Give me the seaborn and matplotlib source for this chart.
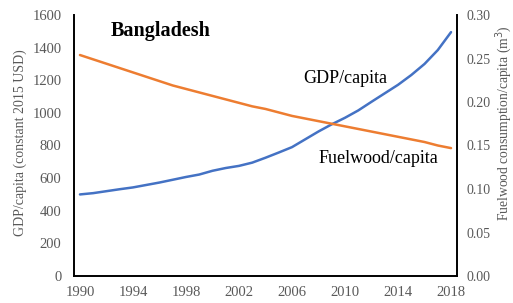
import matplotlib
matplotlib.use("Agg")
import matplotlib.pyplot as plt
import seaborn as sns
import pandas as pd

years = list(range(1990, 2019))
gdp_per_capita = [500, 508, 520, 532, 543, 558, 573, 590, 607, 622,
                  645, 662, 675, 695, 725, 757, 790, 838, 886, 930,
                  970, 1015, 1068, 1120, 1172, 1232, 1300, 1385, 1495]
fuelwood_per_capita = [0.254, 0.249, 0.244, 0.239, 0.234, 0.229, 0.224, 0.219, 0.215, 0.211,
                       0.207, 0.203, 0.199, 0.195, 0.192, 0.188, 0.184, 0.181, 0.178, 0.175,
                       0.172, 0.169, 0.166, 0.163, 0.160, 0.157, 0.154, 0.150, 0.147]
x_ticks = [1990, 1994, 1998, 2002, 2006, 2010, 2014, 2018]
left_ticks = [0, 200, 400, 600, 800, 1000, 1200, 1400, 1600]
right_ticks = [0.00, 0.05, 0.10, 0.15, 0.20, 0.25, 0.30]

df = pd.DataFrame({"year": years, "gdp": gdp_per_capita, "fuel": fuelwood_per_capita})

sns.set_style("white")
plt.rcParams['font.family'] = ['Liberation Serif', 'DejaVu Serif']

gray = "#595959"
fig = plt.figure(figsize=(5.13, 3.03), dpi=100)
ax = fig.add_axes([74/513, 27/303, (457-74)/513, (276-15)/303])
ax2 = ax.twinx()

sns.lineplot(data=df, x="year", y="gdp", ax=ax, color="#4472C4", linewidth=1.8)
sns.lineplot(data=df, x="year", y="fuel", ax=ax2, color="#ED7D31", linewidth=1.8)

ax.set_xlim(1989.55, 2018.45)
ax.set_ylim(0, 1600)
ax2.set_ylim(0, 0.30)
ax.set_xticks(x_ticks)
ax.set_yticks(left_ticks)
ax2.set_yticks(right_ticks)
ax2.set_yticklabels([f"{v:.2f}" for v in right_ticks])

for a in (ax, ax2):
    a.tick_params(length=0, labelcolor=gray)
    for s in a.spines.values():
        s.set_visible(False)
ax.tick_params(axis='y', pad=9, labelsize=10.5)
ax.tick_params(axis='x', pad=7, labelsize=10.5)
ax2.tick_params(axis='y', pad=7, labelsize=10)

ax.spines['left'].set_visible(True)
ax.spines['bottom'].set_visible(True)
ax2.spines['right'].set_visible(True)
for s in (ax.spines['left'], ax.spines['bottom'], ax2.spines['right']):
    s.set_color("black")
    s.set_linewidth(1.4)

ax.set_xlabel("")
ax.set_ylabel("GDP/capita (constant 2015 USD)", fontsize=10, color=gray,
              rotation=90, va="center", ha="center")
ax.yaxis.set_label_coords((20 - 74) / 383, (276 - 143) / 261)
ax2.set_ylabel("Fuelwood consumption/capita (m$^3$)", fontsize=9.8, color=gray,
               rotation=90, va="center", ha="center")
ax2.yaxis.set_label_coords((504 - 74) / 383, (276 - 123) / 261)

ax.text(1992.3, 1500, "Bangladesh", fontsize=14.5, fontweight="bold", color="black",
        ha="left", va="center")
ax.text(2010.0, 1210, "GDP/capita", fontsize=13, color="black", ha="center", va="center")
ax.text(2012.5, 720, "Fuelwood/capita", fontsize=13, color="black", ha="center", va="center")

fig.savefig("out.png", dpi=100)
